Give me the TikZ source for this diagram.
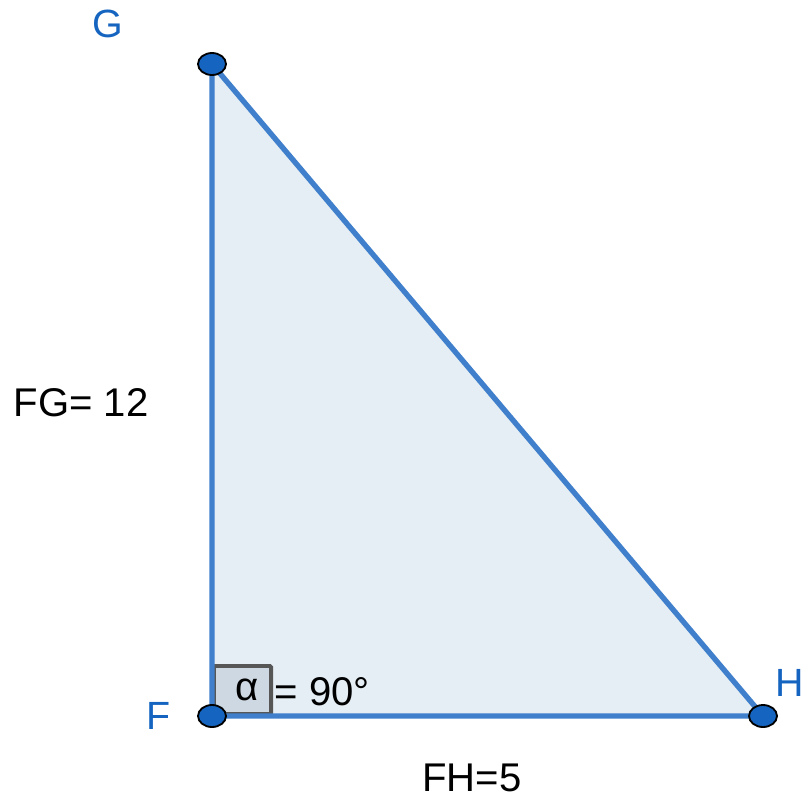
\documentclass[tikz,border=0pt]{standalone}
\usepackage{fontspec}
\setmainfont{Liberation Sans}
\usetikzlibrary{positioning,shapes.geometric}
\definecolor{edge}{HTML}{3F7FCB}
\definecolor{area}{HTML}{E5EEF4}
\definecolor{pt}{HTML}{1565C0}
\definecolor{angfill}{HTML}{CDD8E2}
\definecolor{anggray}{HTML}{565656}
\tikzset{vertex/.style={ellipse,draw=black,fill=pt,line width=1.3pt,minimum width=0.7cm,minimum height=0.55cm,inner sep=0pt},ptlabel/.style={text=pt,font=\fontsize{28}{33}\selectfont},txt/.style={text=black,font=\fontsize{28.5}{33}\selectfont,inner sep=0pt},side/.style={draw=edge,line width=3.8pt,line join=round},rightang/.style={draw=anggray,fill=angfill,line width=2.8pt,rounded corners=1pt,minimum width=1.43cm,minimum height=1.2cm,inner sep=0pt,anchor=south west}}

\begin{document}
\begin{tikzpicture}[x=0.025cm,y=-0.025cm]
\useasboundingbox (0,0) rectangle (804,798);
\coordinate (F) at (212,716);
\coordinate (G) at (212,64);
\coordinate (H) at (763,716);
\fill[area] (F)--(G)--(H)--cycle;
\node[rightang] (ang) at (F) {};
\draw[side] (F)--(G)--(H)--cycle;
\node[txt] (alpha) at (247,690) {α};
\node[txt,right=1pt of ang.east,anchor=west,yshift=-0.05cm] (eq) {= 90°};
\node[vertex] (pF) at (F) {};
\node[vertex] (pG) at (G) {};
\node[vertex] (pH) at (H) {};
\node[ptlabel] (lblG) at (108,24) {G};
\node[ptlabel] (lblF) at (159,716) {F};
\node[ptlabel] (lblH) at (790,683) {H};
\node[txt] (fg) at (81,403) {FG= 12};
\node[txt] (fh) at (472,778) {FH=5};
\end{tikzpicture}
\end{document}
